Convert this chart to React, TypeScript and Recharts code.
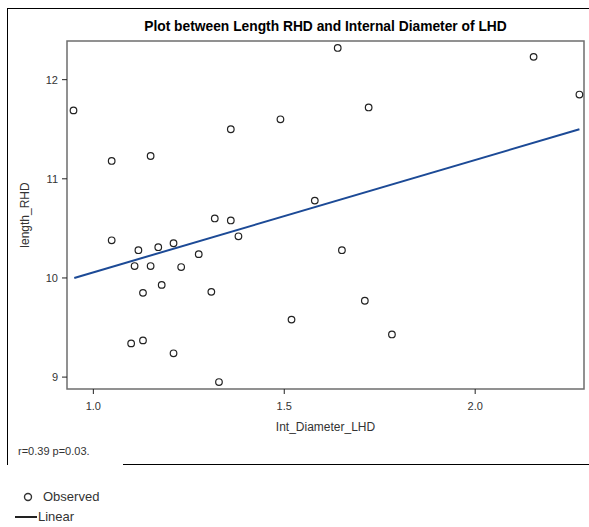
import React from 'react';
import { ComposedChart, Scatter, XAxis, YAxis, ReferenceArea } from 'recharts';

const diameterLHD = [
  0.948, 1.048, 1.15, 1.048, 1.118, 1.17, 1.21, 1.276, 1.108, 1.15, 1.23, 1.179, 1.13, 1.099, 1.13, 1.21,
  1.64, 1.721, 1.49, 1.36, 1.58, 1.318, 1.36, 1.38, 1.651, 1.309, 1.711, 1.519, 1.329, 2.153, 2.273, 1.782,
];
const lengthRHD = [
  11.69, 11.18, 11.23, 10.38, 10.28, 10.31, 10.35, 10.24, 10.12, 10.12, 10.11, 9.93, 9.85, 9.34, 9.37, 9.24,
  12.32, 11.72, 11.6, 11.5, 10.78, 10.6, 10.58, 10.42, 10.28, 9.86, 9.77, 9.58, 8.95, 12.23, 11.85, 9.43,
];

// linear fit end points
const fitX = [0.95, 2.273];
const fitY = [10.0, 11.5];

const xTicks = [1.0, 1.5, 2.0];
const yTicks = [9, 10, 11, 12];
const xDomain = [0.931, 2.285];
const yDomain = [8.88, 12.39];

const observed = diameterLHD.map((x, i) => ({ x, y: lengthRHD[i] }));
const linear = fitX.map((x, i) => ({ x, y: fitY[i] }));

const FONT = '"Liberation Sans", Arial, sans-serif';
const LINE_COLOR = '#1c4a96';

const LegendBox = () => (
  <div style={{ fontFamily: FONT, fontSize: 13, color: '#333', lineHeight: '20px' }}>
    <div style={{ display: 'flex', alignItems: 'center' }}>
      <svg width={35} height={14}>
        <circle cx={20} cy={7} r={3.5} fill="#fff" stroke="#333" strokeWidth={1.4} />
      </svg>
      <span>Observed</span>
    </div>
    <div style={{ display: 'flex', alignItems: 'center' }}>
      <svg width={30} height={14}>
        <line x1={7} y1={7} x2={29} y2={7} stroke="#222" strokeWidth={2} />
      </svg>
      <span>Linear</span>
    </div>
  </div>
);

export default function App() {
  return (
    <div style={{ position: 'absolute', left: 0, top: 0, width: 589, height: 527, background: '#fff', fontFamily: FONT }}>
      {/* outer frame */}
      <div style={{ position: 'absolute', left: 7, top: 8, width: 1, height: 457, background: '#000' }} />
      <div style={{ position: 'absolute', left: 7, top: 8, width: 582, height: 1, background: '#000' }} />
      <div style={{ position: 'absolute', left: 123, top: 464, width: 466, height: 1, background: '#000' }} />

      <div style={{ position: 'absolute', left: 67, width: 517, top: 19, textAlign: 'center', fontWeight: 'bold', fontSize: 13.8, color: '#000' }}>
        Plot between Length RHD and Internal Diameter of LHD
      </div>

      <div style={{ position: 'absolute', left: 18, top: 445, fontSize: 11, color: '#333' }}>r=0.39 p=0.03.</div>

      <div style={{ position: 'absolute', left: 8, top: 487 }}>
        <LegendBox />
      </div>

      <ComposedChart
        width={589}
        height={527}
        margin={{ top: 41, right: 5, bottom: 93, left: 17 }}
        style={{ position: 'absolute', left: 0, top: 0 }}
      >
        <XAxis
          type="number"
          dataKey="x"
          domain={xDomain}
          ticks={xTicks}
          tickFormatter={(v: number) => v.toFixed(1)}
          height={45}
          axisLine={false}
          tickLine={{ stroke: '#222' }}
          tickSize={5}
          tickMargin={8}
          tick={{ fill: '#333', fontSize: 11, fontFamily: FONT }}
          allowDataOverflow
          label={{ value: 'Int_Diameter_LHD', position: 'insideBottom', offset: 3, fill: '#333', fontSize: 12, fontFamily: FONT }}
        />
        <YAxis
          type="number"
          dataKey="y"
          domain={yDomain}
          ticks={yTicks}
          width={50}
          axisLine={false}
          tickLine={{ stroke: '#222' }}
          tickSize={5}
          tickMargin={4}
          tick={{ fill: '#333', fontSize: 11, fontFamily: FONT }}
          allowDataOverflow
          label={{
            content: ({ viewBox }: any) => (
              <text
                x={25}
                y={viewBox.y + viewBox.height / 2}
                transform={`rotate(-90, 25, ${viewBox.y + viewBox.height / 2})`}
                textAnchor="middle"
                dominantBaseline="central"
                fill="#333"
                fontSize={12}
                fontFamily={FONT}
              >
                length_RHD
              </text>
            ),
          }}
        />
        <ReferenceArea
          x1={xDomain[0]}
          x2={xDomain[1]}
          y1={yDomain[0]}
          y2={yDomain[1]}
          fill="none"
          stroke="#6e6e6e"
          strokeWidth={1.5}
          ifOverflow="visible"
        />
        <Scatter
          name="Linear"
          data={linear}
          line={{ stroke: LINE_COLOR, strokeWidth: 2 }}
          shape={() => <g />}
          isAnimationActive={false}
        />
        <Scatter
          name="Observed"
          data={observed}
          shape={(p: any) => <circle cx={p.cx} cy={p.cy} r={3.3} fill="#fff" stroke="#222" strokeWidth={1.2} />}
          isAnimationActive={false}
        />
      </ComposedChart>
    </div>
  );
}
